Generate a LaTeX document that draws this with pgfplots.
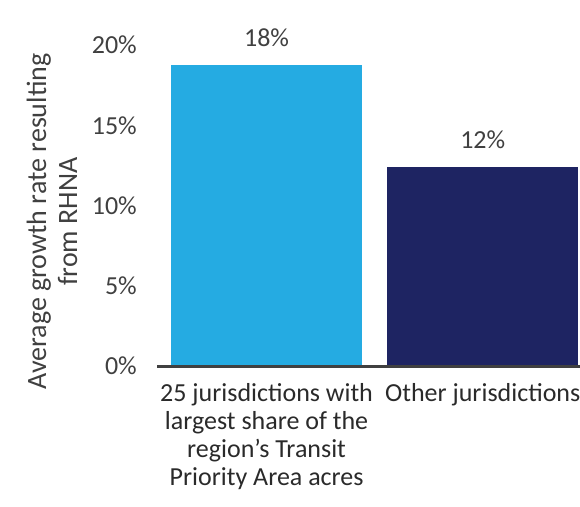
\documentclass[border=0pt]{standalone}
\usepackage{pgfplots}
\pgfplotsset{compat=1.18}
\usepackage{fontspec}
\setmainfont{Carlito}
\definecolor{barA}{HTML}{25ABE2}
\definecolor{barB}{HTML}{1E2462}
\definecolor{axisgray}{HTML}{404040}
\definecolor{txt}{HTML}{2A2A2A}
\begin{document}
\fontsize{24pt}{29pt}\selectfont
\begin{tikzpicture}
\useasboundingbox (0,0) rectangle (580pt,506pt);
\begin{axis}[
  at={(157pt,140pt)}, anchor=south west,
  scale only axis, width=423pt, height=321pt,
  xmin=-0.507, xmax=1.45, ymin=0, ymax=20,
  clip=false,
  axis line style={draw=none},
  ybar, bar width=0.884, bar shift=0pt,
  xtick={0,1},
  xticklabels={{25 jurisdictions with\\largest share of the\\region's Transit\\Priority Area acres},{Other jurisdictions}},
  xticklabel style={align=center, font=\fontsize{26pt}{28pt}\selectfont, text=txt, yshift=-9pt},
  ytick={0,5,10,15,20},
  yticklabel={\pgfmathprintnumber{\tick}\%},
  yticklabel style={font=\fontsize{26pt}{28pt}\selectfont, text=axisgray, xshift=-12pt},
  /pgf/number format/assume math mode=true,
  major tick length=0pt,
  tick style={draw=none},
  ylabel={Average growth rate resulting\\from RHNA},
  ylabel style={at={(axis description cs:-0.248,0.45)}, anchor=center, rotate=0, align=center, font=\fontsize{28pt}{31pt}\selectfont, text=axisgray},
  nodes near coords,
  point meta=explicit symbolic,
  nodes near coords style={font=\fontsize{26pt}{28pt}\selectfont, text=axisgray, anchor=south, yshift=10pt},
]
\addplot[fill=barA, draw=none] coordinates {(0,18.75) [18\%]};
\addplot[fill=barB, draw=none] coordinates {(1,12.4) [12\%]};
\draw[axisgray, line width=3pt] (axis cs:-0.507,0) -- (axis cs:1.45,0);
\end{axis}
\end{tikzpicture}
\end{document}
